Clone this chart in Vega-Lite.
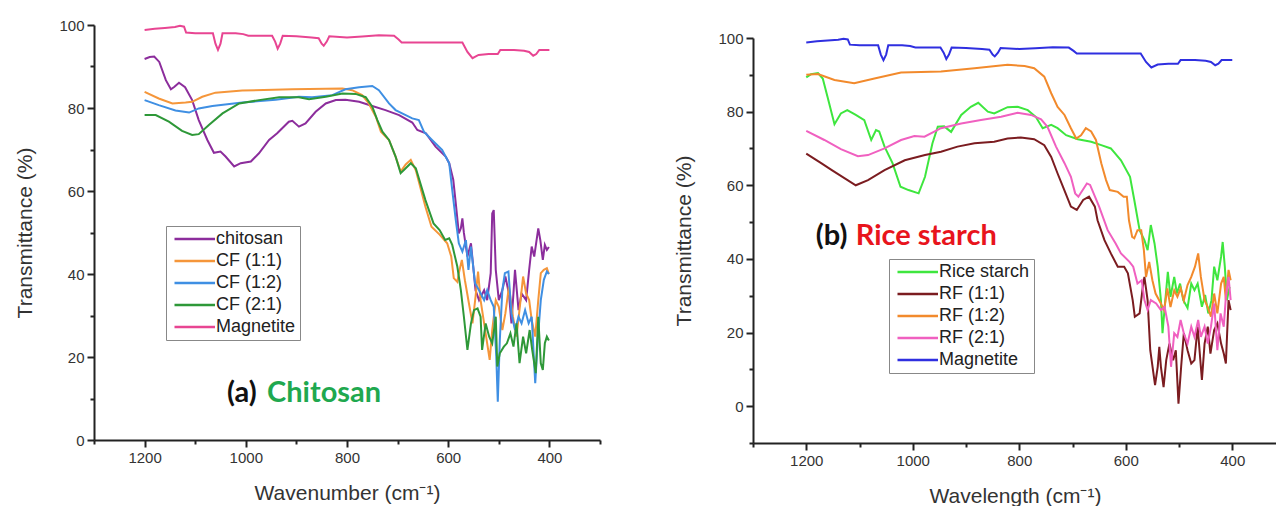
{
"$schema": "https://vega.github.io/schema/vega-lite/v6.json",
"background": "white",
"padding": {"left": 14, "top": 18, "right": 0, "bottom": 0},
"spacing": 72,
"config": {
  "font": "Liberation Sans",
  "view": {"stroke": null},
  "axis": {"domainColor": "#222", "domainWidth": 2, "tickColor": "#222", "tickWidth": 2, "labelFontSize": 15, "labelColor": "#333", "labelFont": "Liberation Sans", "titleFont": "Liberation Sans", "titleFontSize": 21, "titleFontWeight": "normal", "titleColor": "#333", "grid": false, "labelPadding": 3, "format": "d"},
  "legend": {"orient": "none", "title": null, "strokeColor": "#888", "fillColor": "white", "padding": 4, "symbolType": "M-1,0H8", "symbolSize": 81, "symbolStrokeWidth": 2.5, "labelOffset": 28, "labelFontSize": 18, "labelFont": "Liberation Sans", "labelColor": "#222", "rowPadding": 4}
},
"datasets": {
"a": [
{"series":"Magnetite","wn":1200,"T":98.8},{"series":"Magnetite","wn":1180,"T":99.1},{"series":"Magnetite","wn":1160,"T":99.3},{"series":"Magnetite","wn":1140,"T":99.5},{"series":"Magnetite","wn":1130,"T":99.8},{"series":"Magnetite","wn":1122,"T":99.6},{"series":"Magnetite","wn":1118,"T":98.2},{"series":"Magnetite","wn":1100,"T":98},{"series":"Magnetite","wn":1080,"T":98},{"series":"Magnetite","wn":1065,"T":98},{"series":"Magnetite","wn":1060,"T":95.5},{"series":"Magnetite","wn":1055,"T":94},{"series":"Magnetite","wn":1050,"T":95.5},{"series":"Magnetite","wn":1046,"T":98},{"series":"Magnetite","wn":1020,"T":98},{"series":"Magnetite","wn":1005,"T":97.8},{"series":"Magnetite","wn":995,"T":97.4},{"series":"Magnetite","wn":970,"T":97.4},{"series":"Magnetite","wn":948,"T":97.4},{"series":"Magnetite","wn":942,"T":96},{"series":"Magnetite","wn":937,"T":94.3},{"series":"Magnetite","wn":932,"T":95.5},{"series":"Magnetite","wn":927,"T":97.4},{"series":"Magnetite","wn":900,"T":97.3},{"series":"Magnetite","wn":870,"T":97},{"series":"Magnetite","wn":856,"T":96.8},{"series":"Magnetite","wn":850,"T":95.5},{"series":"Magnetite","wn":846,"T":95},{"series":"Magnetite","wn":840,"T":96},{"series":"Magnetite","wn":835,"T":97.3},{"series":"Magnetite","wn":800,"T":97},{"series":"Magnetite","wn":770,"T":97.2},{"series":"Magnetite","wn":737,"T":97.5},{"series":"Magnetite","wn":707,"T":97.4},{"series":"Magnetite","wn":698,"T":96.5},{"series":"Magnetite","wn":692,"T":95.8},{"series":"Magnetite","wn":650,"T":95.8},{"series":"Magnetite","wn":600,"T":95.8},{"series":"Magnetite","wn":572,"T":95.8},{"series":"Magnetite","wn":562,"T":93.5},{"series":"Magnetite","wn":552,"T":92},{"series":"Magnetite","wn":540,"T":92.8},{"series":"Magnetite","wn":520,"T":93},{"series":"Magnetite","wn":502,"T":93},{"series":"Magnetite","wn":497,"T":94},{"series":"Magnetite","wn":470,"T":94},{"series":"Magnetite","wn":450,"T":93.8},{"series":"Magnetite","wn":440,"T":93.5},{"series":"Magnetite","wn":432,"T":92.6},{"series":"Magnetite","wn":426,"T":93},{"series":"Magnetite","wn":420,"T":94},{"series":"Magnetite","wn":400,"T":94},
{"series":"chitosan","wn":1200,"T":91.8},{"series":"chitosan","wn":1190,"T":92.3},{"series":"chitosan","wn":1181,"T":92.4},{"series":"chitosan","wn":1171,"T":91.1},{"series":"chitosan","wn":1158,"T":86.7},{"series":"chitosan","wn":1148,"T":84.5},{"series":"chitosan","wn":1141,"T":85.1},{"series":"chitosan","wn":1132,"T":86.1},{"series":"chitosan","wn":1120,"T":85},{"series":"chitosan","wn":1106,"T":81.9},{"series":"chitosan","wn":1093,"T":77.1},{"series":"chitosan","wn":1076,"T":72.3},{"series":"chitosan","wn":1063,"T":69.2},{"series":"chitosan","wn":1050,"T":69.5},{"series":"chitosan","wn":1040,"T":68.3},{"series":"chitosan","wn":1023,"T":65.9},{"series":"chitosan","wn":1010,"T":66.7},{"series":"chitosan","wn":990,"T":67.1},{"series":"chitosan","wn":974,"T":69.1},{"series":"chitosan","wn":954,"T":72.3},{"series":"chitosan","wn":938,"T":73.9},{"series":"chitosan","wn":915,"T":76.7},{"series":"chitosan","wn":908,"T":76.9},{"series":"chitosan","wn":895,"T":75.5},{"series":"chitosan","wn":882,"T":76.3},{"series":"chitosan","wn":862,"T":79.1},{"series":"chitosan","wn":842,"T":81.1},{"series":"chitosan","wn":822,"T":81.9},{"series":"chitosan","wn":803,"T":82},{"series":"chitosan","wn":776,"T":81.5},{"series":"chitosan","wn":750,"T":80.5},{"series":"chitosan","wn":724,"T":79.5},{"series":"chitosan","wn":697,"T":78.3},{"series":"chitosan","wn":671,"T":76.5},{"series":"chitosan","wn":661,"T":74.7},{"series":"chitosan","wn":644,"T":73.9},{"series":"chitosan","wn":625,"T":70.7},{"series":"chitosan","wn":605,"T":68.3},{"series":"chitosan","wn":598,"T":66.7},{"series":"chitosan","wn":590,"T":62.7},{"series":"chitosan","wn":585,"T":57},{"series":"chitosan","wn":579,"T":49.8},{"series":"chitosan","wn":575,"T":51},{"series":"chitosan","wn":572,"T":53.4},{"series":"chitosan","wn":569,"T":49.9},{"series":"chitosan","wn":562,"T":44.2},{"series":"chitosan","wn":555,"T":47.4},{"series":"chitosan","wn":546,"T":36.1},{"series":"chitosan","wn":539,"T":33.7},{"series":"chitosan","wn":529,"T":36.1},{"series":"chitosan","wn":523,"T":33.7},{"series":"chitosan","wn":516,"T":40.2},{"series":"chitosan","wn":513,"T":54.6},{"series":"chitosan","wn":510,"T":55.4},{"series":"chitosan","wn":506,"T":41},{"series":"chitosan","wn":500,"T":33.7},{"series":"chitosan","wn":493,"T":36.1},{"series":"chitosan","wn":487,"T":39.4},{"series":"chitosan","wn":480,"T":35.3},{"series":"chitosan","wn":475,"T":28.1},{"series":"chitosan","wn":468,"T":41},{"series":"chitosan","wn":461,"T":31.3},{"series":"chitosan","wn":455,"T":35.3},{"series":"chitosan","wn":446,"T":33.7},{"series":"chitosan","wn":440,"T":41},{"series":"chitosan","wn":435,"T":46.6},{"series":"chitosan","wn":430,"T":44.2},{"series":"chitosan","wn":422,"T":51},{"series":"chitosan","wn":418,"T":48.2},{"series":"chitosan","wn":413,"T":43.4},{"series":"chitosan","wn":409,"T":47},{"series":"chitosan","wn":405,"T":45.8},{"series":"chitosan","wn":401,"T":46.5},
{"series":"CF (1:1)","wn":1200,"T":83.9},{"series":"CF (1:1)","wn":1172,"T":82.3},{"series":"CF (1:1)","wn":1145,"T":81.1},{"series":"CF (1:1)","wn":1119,"T":81.3},{"series":"CF (1:1)","wn":1106,"T":81.5},{"series":"CF (1:1)","wn":1086,"T":82.7},{"series":"CF (1:1)","wn":1060,"T":83.7},{"series":"CF (1:1)","wn":1007,"T":84.2},{"series":"CF (1:1)","wn":908,"T":84.5},{"series":"CF (1:1)","wn":809,"T":84.7},{"series":"CF (1:1)","wn":790,"T":84.3},{"series":"CF (1:1)","wn":770,"T":83.1},{"series":"CF (1:1)","wn":757,"T":81.1},{"series":"CF (1:1)","wn":743,"T":77.9},{"series":"CF (1:1)","wn":733,"T":74.3},{"series":"CF (1:1)","wn":717,"T":72.3},{"series":"CF (1:1)","wn":704,"T":68.3},{"series":"CF (1:1)","wn":694,"T":64.7},{"series":"CF (1:1)","wn":684,"T":66.4},{"series":"CF (1:1)","wn":674,"T":67.5},{"series":"CF (1:1)","wn":664,"T":65},{"series":"CF (1:1)","wn":645,"T":56.2},{"series":"CF (1:1)","wn":633,"T":51.4},{"series":"CF (1:1)","wn":617,"T":49.5},{"series":"CF (1:1)","wn":602,"T":47.4},{"series":"CF (1:1)","wn":594,"T":44.2},{"series":"CF (1:1)","wn":589,"T":39},{"series":"CF (1:1)","wn":582,"T":38.1},{"series":"CF (1:1)","wn":579,"T":40.2},{"series":"CF (1:1)","wn":573,"T":43.4},{"series":"CF (1:1)","wn":567,"T":38.5},{"series":"CF (1:1)","wn":559,"T":32.9},{"series":"CF (1:1)","wn":552,"T":28.1},{"series":"CF (1:1)","wn":546,"T":34.5},{"series":"CF (1:1)","wn":541,"T":40.6},{"series":"CF (1:1)","wn":536,"T":33.7},{"series":"CF (1:1)","wn":526,"T":25.7},{"series":"CF (1:1)","wn":518,"T":19.3},{"series":"CF (1:1)","wn":513,"T":26.5},{"series":"CF (1:1)","wn":506,"T":33.7},{"series":"CF (1:1)","wn":500,"T":32.1},{"series":"CF (1:1)","wn":493,"T":26.5},{"series":"CF (1:1)","wn":487,"T":30.5},{"series":"CF (1:1)","wn":480,"T":36.9},{"series":"CF (1:1)","wn":472,"T":29.7},{"series":"CF (1:1)","wn":465,"T":24.9},{"series":"CF (1:1)","wn":457,"T":33.7},{"series":"CF (1:1)","wn":452,"T":39.4},{"series":"CF (1:1)","wn":446,"T":35.3},{"series":"CF (1:1)","wn":440,"T":33.7},{"series":"CF (1:1)","wn":435,"T":28.9},{"series":"CF (1:1)","wn":428,"T":24.9},{"series":"CF (1:1)","wn":422,"T":33.7},{"series":"CF (1:1)","wn":417,"T":40.2},{"series":"CF (1:1)","wn":411,"T":41},{"series":"CF (1:1)","wn":405,"T":41.4},{"series":"CF (1:1)","wn":401,"T":40},
{"series":"CF (1:2)","wn":1200,"T":81.9},{"series":"CF (1:2)","wn":1172,"T":80.7},{"series":"CF (1:2)","wn":1139,"T":79.4},{"series":"CF (1:2)","wn":1112,"T":78.9},{"series":"CF (1:2)","wn":1093,"T":79.9},{"series":"CF (1:2)","wn":1066,"T":80.5},{"series":"CF (1:2)","wn":1007,"T":81.3},{"series":"CF (1:2)","wn":941,"T":82},{"series":"CF (1:2)","wn":895,"T":82.7},{"series":"CF (1:2)","wn":869,"T":82.6},{"series":"CF (1:2)","wn":829,"T":83.1},{"series":"CF (1:2)","wn":803,"T":84.5},{"series":"CF (1:2)","wn":776,"T":85},{"series":"CF (1:2)","wn":750,"T":85.3},{"series":"CF (1:2)","wn":737,"T":84.3},{"series":"CF (1:2)","wn":717,"T":81.1},{"series":"CF (1:2)","wn":704,"T":79.5},{"series":"CF (1:2)","wn":684,"T":78.3},{"series":"CF (1:2)","wn":671,"T":77.5},{"series":"CF (1:2)","wn":658,"T":77.1},{"series":"CF (1:2)","wn":648,"T":74.3},{"series":"CF (1:2)","wn":632,"T":72.3},{"series":"CF (1:2)","wn":612,"T":69.9},{"series":"CF (1:2)","wn":598,"T":66.7},{"series":"CF (1:2)","wn":592,"T":60.2},{"series":"CF (1:2)","wn":585,"T":53},{"series":"CF (1:2)","wn":579,"T":47.4},{"series":"CF (1:2)","wn":572,"T":45.4},{"series":"CF (1:2)","wn":565,"T":48.2},{"series":"CF (1:2)","wn":560,"T":41},{"series":"CF (1:2)","wn":555,"T":46.6},{"series":"CF (1:2)","wn":547,"T":37.8},{"series":"CF (1:2)","wn":539,"T":36.1},{"series":"CF (1:2)","wn":529,"T":33.7},{"series":"CF (1:2)","wn":523,"T":36.1},{"series":"CF (1:2)","wn":516,"T":33.7},{"series":"CF (1:2)","wn":510,"T":32.1},{"series":"CF (1:2)","wn":505,"T":20.1},{"series":"CF (1:2)","wn":502,"T":9.2},{"series":"CF (1:2)","wn":498,"T":24.1},{"series":"CF (1:2)","wn":493,"T":36.1},{"series":"CF (1:2)","wn":488,"T":40.2},{"series":"CF (1:2)","wn":481,"T":40.6},{"series":"CF (1:2)","wn":475,"T":30.5},{"series":"CF (1:2)","wn":468,"T":26.5},{"series":"CF (1:2)","wn":461,"T":29.7},{"series":"CF (1:2)","wn":455,"T":28.1},{"series":"CF (1:2)","wn":448,"T":31.3},{"series":"CF (1:2)","wn":441,"T":28.1},{"series":"CF (1:2)","wn":435,"T":29.7},{"series":"CF (1:2)","wn":428,"T":13.7},{"series":"CF (1:2)","wn":423,"T":24.1},{"series":"CF (1:2)","wn":417,"T":33.7},{"series":"CF (1:2)","wn":411,"T":38.6},{"series":"CF (1:2)","wn":405,"T":40.6},{"series":"CF (1:2)","wn":401,"T":40},
{"series":"CF (2:1)","wn":1200,"T":78.3},{"series":"CF (2:1)","wn":1178,"T":78.3},{"series":"CF (2:1)","wn":1152,"T":76.7},{"series":"CF (2:1)","wn":1126,"T":74.5},{"series":"CF (2:1)","wn":1106,"T":73.5},{"series":"CF (2:1)","wn":1093,"T":73.7},{"series":"CF (2:1)","wn":1073,"T":75.9},{"series":"CF (2:1)","wn":1046,"T":78.7},{"series":"CF (2:1)","wn":1013,"T":81.1},{"series":"CF (2:1)","wn":974,"T":81.9},{"series":"CF (2:1)","wn":934,"T":82.6},{"series":"CF (2:1)","wn":895,"T":82.6},{"series":"CF (2:1)","wn":875,"T":82.1},{"series":"CF (2:1)","wn":842,"T":82.7},{"series":"CF (2:1)","wn":809,"T":83.5},{"series":"CF (2:1)","wn":783,"T":83.4},{"series":"CF (2:1)","wn":763,"T":82.6},{"series":"CF (2:1)","wn":750,"T":80.3},{"series":"CF (2:1)","wn":740,"T":77.1},{"series":"CF (2:1)","wn":730,"T":74.3},{"series":"CF (2:1)","wn":717,"T":72.3},{"series":"CF (2:1)","wn":704,"T":68.3},{"series":"CF (2:1)","wn":694,"T":64.3},{"series":"CF (2:1)","wn":684,"T":65.5},{"series":"CF (2:1)","wn":674,"T":66.7},{"series":"CF (2:1)","wn":664,"T":65.5},{"series":"CF (2:1)","wn":645,"T":57.8},{"series":"CF (2:1)","wn":629,"T":52.2},{"series":"CF (2:1)","wn":617,"T":50.6},{"series":"CF (2:1)","wn":606,"T":48.2},{"series":"CF (2:1)","wn":598,"T":48.6},{"series":"CF (2:1)","wn":592,"T":47},{"series":"CF (2:1)","wn":582,"T":41.8},{"series":"CF (2:1)","wn":575,"T":36.1},{"series":"CF (2:1)","wn":569,"T":29.7},{"series":"CF (2:1)","wn":562,"T":21.7},{"series":"CF (2:1)","wn":555,"T":28.1},{"series":"CF (2:1)","wn":549,"T":31.3},{"series":"CF (2:1)","wn":542,"T":31.7},{"series":"CF (2:1)","wn":536,"T":29.7},{"series":"CF (2:1)","wn":533,"T":21.7},{"series":"CF (2:1)","wn":526,"T":28.1},{"series":"CF (2:1)","wn":519,"T":24.9},{"series":"CF (2:1)","wn":513,"T":23.3},{"series":"CF (2:1)","wn":506,"T":29.7},{"series":"CF (2:1)","wn":503,"T":17.7},{"series":"CF (2:1)","wn":498,"T":20.9},{"series":"CF (2:1)","wn":490,"T":22.5},{"series":"CF (2:1)","wn":484,"T":23.3},{"series":"CF (2:1)","wn":477,"T":25.7},{"series":"CF (2:1)","wn":471,"T":22.5},{"series":"CF (2:1)","wn":465,"T":28.1},{"series":"CF (2:1)","wn":459,"T":18.5},{"series":"CF (2:1)","wn":452,"T":24.9},{"series":"CF (2:1)","wn":446,"T":20.9},{"series":"CF (2:1)","wn":439,"T":26.5},{"series":"CF (2:1)","wn":434,"T":21.7},{"series":"CF (2:1)","wn":427,"T":16.1},{"series":"CF (2:1)","wn":422,"T":29.7},{"series":"CF (2:1)","wn":417,"T":18.5},{"series":"CF (2:1)","wn":413,"T":16.9},{"series":"CF (2:1)","wn":409,"T":23.3},{"series":"CF (2:1)","wn":405,"T":24.9},{"series":"CF (2:1)","wn":401,"T":24}
],
"b": [
{"series":"Magnetite","wn":1200,"T":98.8},{"series":"Magnetite","wn":1180,"T":99.1},{"series":"Magnetite","wn":1160,"T":99.3},{"series":"Magnetite","wn":1140,"T":99.5},{"series":"Magnetite","wn":1130,"T":99.8},{"series":"Magnetite","wn":1122,"T":99.6},{"series":"Magnetite","wn":1118,"T":98.2},{"series":"Magnetite","wn":1100,"T":98},{"series":"Magnetite","wn":1080,"T":98},{"series":"Magnetite","wn":1065,"T":98},{"series":"Magnetite","wn":1060,"T":95.5},{"series":"Magnetite","wn":1055,"T":94},{"series":"Magnetite","wn":1050,"T":95.5},{"series":"Magnetite","wn":1046,"T":98},{"series":"Magnetite","wn":1020,"T":98},{"series":"Magnetite","wn":1005,"T":97.8},{"series":"Magnetite","wn":995,"T":97.4},{"series":"Magnetite","wn":970,"T":97.4},{"series":"Magnetite","wn":948,"T":97.4},{"series":"Magnetite","wn":942,"T":96},{"series":"Magnetite","wn":937,"T":94.3},{"series":"Magnetite","wn":932,"T":95.5},{"series":"Magnetite","wn":927,"T":97.4},{"series":"Magnetite","wn":900,"T":97.3},{"series":"Magnetite","wn":870,"T":97},{"series":"Magnetite","wn":856,"T":96.8},{"series":"Magnetite","wn":850,"T":95.5},{"series":"Magnetite","wn":846,"T":95},{"series":"Magnetite","wn":840,"T":96},{"series":"Magnetite","wn":835,"T":97.3},{"series":"Magnetite","wn":800,"T":97},{"series":"Magnetite","wn":770,"T":97.2},{"series":"Magnetite","wn":737,"T":97.5},{"series":"Magnetite","wn":707,"T":97.4},{"series":"Magnetite","wn":698,"T":96.5},{"series":"Magnetite","wn":692,"T":95.8},{"series":"Magnetite","wn":650,"T":95.8},{"series":"Magnetite","wn":600,"T":95.8},{"series":"Magnetite","wn":572,"T":95.8},{"series":"Magnetite","wn":562,"T":93.5},{"series":"Magnetite","wn":552,"T":92},{"series":"Magnetite","wn":540,"T":92.8},{"series":"Magnetite","wn":520,"T":93},{"series":"Magnetite","wn":502,"T":93},{"series":"Magnetite","wn":497,"T":94},{"series":"Magnetite","wn":470,"T":94},{"series":"Magnetite","wn":450,"T":93.8},{"series":"Magnetite","wn":440,"T":93.5},{"series":"Magnetite","wn":432,"T":92.6},{"series":"Magnetite","wn":426,"T":93},{"series":"Magnetite","wn":420,"T":94},{"series":"Magnetite","wn":400,"T":94},
{"series":"Rice starch","wn":1200,"T":89.3},{"series":"Rice starch","wn":1191,"T":90.2},{"series":"Rice starch","wn":1178,"T":90.5},{"series":"Rice starch","wn":1169,"T":89},{"series":"Rice starch","wn":1160,"T":84},{"series":"Rice starch","wn":1147,"T":76.6},{"series":"Rice starch","wn":1135,"T":79.5},{"series":"Rice starch","wn":1123,"T":80.4},{"series":"Rice starch","wn":1107,"T":79.1},{"series":"Rice starch","wn":1091,"T":77.7},{"series":"Rice starch","wn":1078,"T":72.3},{"series":"Rice starch","wn":1069,"T":75},{"series":"Rice starch","wn":1063,"T":74.6},{"series":"Rice starch","wn":1053,"T":70.5},{"series":"Rice starch","wn":1038,"T":66},{"series":"Rice starch","wn":1023,"T":59.6},{"series":"Rice starch","wn":1008,"T":58.7},{"series":"Rice starch","wn":989,"T":57.8},{"series":"Rice starch","wn":977,"T":62.3},{"series":"Rice starch","wn":963,"T":71.4},{"series":"Rice starch","wn":953,"T":75.9},{"series":"Rice starch","wn":941,"T":76},{"series":"Rice starch","wn":928,"T":74.5},{"series":"Rice starch","wn":909,"T":79.1},{"series":"Rice starch","wn":891,"T":81.3},{"series":"Rice starch","wn":877,"T":82.4},{"series":"Rice starch","wn":859,"T":80},{"series":"Rice starch","wn":847,"T":79.5},{"series":"Rice starch","wn":822,"T":81.2},{"series":"Rice starch","wn":803,"T":81.3},{"series":"Rice starch","wn":784,"T":80.4},{"series":"Rice starch","wn":769,"T":78.6},{"series":"Rice starch","wn":756,"T":75.5},{"series":"Rice starch","wn":740,"T":76.4},{"series":"Rice starch","wn":728,"T":75.5},{"series":"Rice starch","wn":712,"T":73.6},{"series":"Rice starch","wn":690,"T":72.5},{"series":"Rice starch","wn":665,"T":71.8},{"series":"Rice starch","wn":646,"T":70.9},{"series":"Rice starch","wn":628,"T":70},{"series":"Rice starch","wn":609,"T":66.8},{"series":"Rice starch","wn":592,"T":62.3},{"series":"Rice starch","wn":584,"T":56},{"series":"Rice starch","wn":574,"T":47.8},{"series":"Rice starch","wn":565,"T":45.1},{"series":"Rice starch","wn":559,"T":42.4},{"series":"Rice starch","wn":553,"T":49.2},{"series":"Rice starch","wn":546,"T":44.2},{"series":"Rice starch","wn":540,"T":37.9},{"series":"Rice starch","wn":534,"T":28.8},{"series":"Rice starch","wn":531,"T":19.8},{"series":"Rice starch","wn":527,"T":26.7},{"series":"Rice starch","wn":521,"T":36.5},{"series":"Rice starch","wn":516,"T":29.7},{"series":"Rice starch","wn":509,"T":35.1},{"series":"Rice starch","wn":504,"T":30.6},{"series":"Rice starch","wn":498,"T":33.3},{"series":"Rice starch","wn":492,"T":28.8},{"series":"Rice starch","wn":484,"T":26.7},{"series":"Rice starch","wn":477,"T":33.3},{"series":"Rice starch","wn":471,"T":31.5},{"series":"Rice starch","wn":465,"T":33.3},{"series":"Rice starch","wn":457,"T":27},{"series":"Rice starch","wn":451,"T":30.2},{"series":"Rice starch","wn":445,"T":25.2},{"series":"Rice starch","wn":439,"T":28.8},{"series":"Rice starch","wn":434,"T":37.9},{"series":"Rice starch","wn":428,"T":34.2},{"series":"Rice starch","wn":421,"T":40.6},{"series":"Rice starch","wn":418,"T":44.6},{"series":"Rice starch","wn":414,"T":37.9},{"series":"Rice starch","wn":410,"T":28.8},{"series":"Rice starch","wn":405,"T":32.4},
{"series":"RF (1:1)","wn":1200,"T":68.6},{"series":"RF (1:1)","wn":1172,"T":66},{"series":"RF (1:1)","wn":1152,"T":64.1},{"series":"RF (1:1)","wn":1107,"T":60},{"series":"RF (1:1)","wn":1084,"T":61.4},{"series":"RF (1:1)","wn":1053,"T":64.1},{"series":"RF (1:1)","wn":1015,"T":66.8},{"series":"RF (1:1)","wn":977,"T":68.2},{"series":"RF (1:1)","wn":947,"T":69.1},{"series":"RF (1:1)","wn":916,"T":70.5},{"series":"RF (1:1)","wn":884,"T":71.4},{"series":"RF (1:1)","wn":847,"T":71.8},{"series":"RF (1:1)","wn":822,"T":72.7},{"series":"RF (1:1)","wn":797,"T":73},{"series":"RF (1:1)","wn":772,"T":72.5},{"series":"RF (1:1)","wn":753,"T":70.9},{"series":"RF (1:1)","wn":740,"T":67.7},{"series":"RF (1:1)","wn":728,"T":63.2},{"series":"RF (1:1)","wn":718,"T":59.6},{"series":"RF (1:1)","wn":703,"T":54.2},{"series":"RF (1:1)","wn":692,"T":53.3},{"series":"RF (1:1)","wn":680,"T":56},{"series":"RF (1:1)","wn":669,"T":56.9},{"series":"RF (1:1)","wn":658,"T":54.2},{"series":"RF (1:1)","wn":653,"T":50.5},{"series":"RF (1:1)","wn":640,"T":45.1},{"series":"RF (1:1)","wn":628,"T":41.5},{"series":"RF (1:1)","wn":615,"T":37.9},{"series":"RF (1:1)","wn":603,"T":37.9},{"series":"RF (1:1)","wn":596,"T":36.1},{"series":"RF (1:1)","wn":587,"T":28.8},{"series":"RF (1:1)","wn":583,"T":24.3},{"series":"RF (1:1)","wn":574,"T":25.2},{"series":"RF (1:1)","wn":568,"T":32.4},{"series":"RF (1:1)","wn":565,"T":35.1},{"series":"RF (1:1)","wn":559,"T":28.8},{"series":"RF (1:1)","wn":554,"T":15.2},{"series":"RF (1:1)","wn":545,"T":5.7},{"series":"RF (1:1)","wn":540,"T":10.7},{"series":"RF (1:1)","wn":537,"T":16.1},{"series":"RF (1:1)","wn":534,"T":10.7},{"series":"RF (1:1)","wn":529,"T":5.2},{"series":"RF (1:1)","wn":524,"T":12.5},{"series":"RF (1:1)","wn":518,"T":17},{"series":"RF (1:1)","wn":511,"T":12.5},{"series":"RF (1:1)","wn":506,"T":15.2},{"series":"RF (1:1)","wn":501,"T":0.7},{"series":"RF (1:1)","wn":496,"T":10.7},{"series":"RF (1:1)","wn":491,"T":19.8},{"series":"RF (1:1)","wn":484,"T":15.2},{"series":"RF (1:1)","wn":477,"T":11.6},{"series":"RF (1:1)","wn":471,"T":12.5},{"series":"RF (1:1)","wn":465,"T":21.6},{"series":"RF (1:1)","wn":457,"T":7.1},{"series":"RF (1:1)","wn":452,"T":17},{"series":"RF (1:1)","wn":446,"T":21.6},{"series":"RF (1:1)","wn":441,"T":14.3},{"series":"RF (1:1)","wn":434,"T":20.7},{"series":"RF (1:1)","wn":428,"T":22.5},{"series":"RF (1:1)","wn":421,"T":17},{"series":"RF (1:1)","wn":416,"T":14.3},{"series":"RF (1:1)","wn":412,"T":11.6},{"series":"RF (1:1)","wn":407,"T":28.8},{"series":"RF (1:1)","wn":403,"T":26.1},
{"series":"RF (1:2)","wn":1200,"T":90},{"series":"RF (1:2)","wn":1178,"T":90.2},{"series":"RF (1:2)","wn":1147,"T":88.6},{"series":"RF (1:2)","wn":1110,"T":87.7},{"series":"RF (1:2)","wn":1072,"T":89},{"series":"RF (1:2)","wn":1022,"T":90.6},{"series":"RF (1:2)","wn":947,"T":90.9},{"series":"RF (1:2)","wn":884,"T":91.8},{"series":"RF (1:2)","wn":822,"T":92.7},{"series":"RF (1:2)","wn":790,"T":92.4},{"series":"RF (1:2)","wn":772,"T":91.8},{"series":"RF (1:2)","wn":753,"T":89.5},{"series":"RF (1:2)","wn":740,"T":85},{"series":"RF (1:2)","wn":728,"T":81.3},{"series":"RF (1:2)","wn":715,"T":79.1},{"series":"RF (1:2)","wn":703,"T":75.5},{"series":"RF (1:2)","wn":693,"T":72.7},{"series":"RF (1:2)","wn":684,"T":73.6},{"series":"RF (1:2)","wn":675,"T":75.5},{"series":"RF (1:2)","wn":665,"T":74.6},{"series":"RF (1:2)","wn":656,"T":72.3},{"series":"RF (1:2)","wn":646,"T":66},{"series":"RF (1:2)","wn":637,"T":61.4},{"series":"RF (1:2)","wn":630,"T":58.7},{"series":"RF (1:2)","wn":615,"T":58.2},{"series":"RF (1:2)","wn":604,"T":56.9},{"series":"RF (1:2)","wn":598,"T":56.9},{"series":"RF (1:2)","wn":594,"T":50.5},{"series":"RF (1:2)","wn":588,"T":46},{"series":"RF (1:2)","wn":584,"T":45.6},{"series":"RF (1:2)","wn":578,"T":47.8},{"series":"RF (1:2)","wn":571,"T":47.8},{"series":"RF (1:2)","wn":566,"T":42.4},{"series":"RF (1:2)","wn":562,"T":35.1},{"series":"RF (1:2)","wn":556,"T":39.2},{"series":"RF (1:2)","wn":550,"T":34.2},{"series":"RF (1:2)","wn":544,"T":30.6},{"series":"RF (1:2)","wn":534,"T":27.9},{"series":"RF (1:2)","wn":528,"T":26.1},{"series":"RF (1:2)","wn":522,"T":32},{"series":"RF (1:2)","wn":516,"T":26.9},{"series":"RF (1:2)","wn":509,"T":31.5},{"series":"RF (1:2)","wn":503,"T":29.7},{"series":"RF (1:2)","wn":497,"T":32},{"series":"RF (1:2)","wn":491,"T":28.8},{"series":"RF (1:2)","wn":484,"T":32.9},{"series":"RF (1:2)","wn":477,"T":35.1},{"series":"RF (1:2)","wn":470,"T":37.9},{"series":"RF (1:2)","wn":464,"T":41.5},{"series":"RF (1:2)","wn":459,"T":35.1},{"series":"RF (1:2)","wn":452,"T":28.8},{"series":"RF (1:2)","wn":446,"T":26.9},{"series":"RF (1:2)","wn":440,"T":24.3},{"series":"RF (1:2)","wn":434,"T":30.6},{"series":"RF (1:2)","wn":428,"T":25.2},{"series":"RF (1:2)","wn":421,"T":33.3},{"series":"RF (1:2)","wn":416,"T":35.1},{"series":"RF (1:2)","wn":412,"T":28.8},{"series":"RF (1:2)","wn":407,"T":37},{"series":"RF (1:2)","wn":403,"T":34.2},
{"series":"RF (2:1)","wn":1200,"T":74.8},{"series":"RF (2:1)","wn":1166,"T":72.3},{"series":"RF (2:1)","wn":1135,"T":69.8},{"series":"RF (2:1)","wn":1103,"T":67.9},{"series":"RF (2:1)","wn":1084,"T":68.2},{"series":"RF (2:1)","wn":1053,"T":70},{"series":"RF (2:1)","wn":1022,"T":72.3},{"series":"RF (2:1)","wn":997,"T":73.4},{"series":"RF (2:1)","wn":978,"T":73.2},{"series":"RF (2:1)","wn":947,"T":75.5},{"series":"RF (2:1)","wn":909,"T":76.8},{"series":"RF (2:1)","wn":872,"T":77.7},{"series":"RF (2:1)","wn":834,"T":78.6},{"series":"RF (2:1)","wn":803,"T":79.7},{"series":"RF (2:1)","wn":778,"T":79.1},{"series":"RF (2:1)","wn":759,"T":77.9},{"series":"RF (2:1)","wn":747,"T":75.9},{"series":"RF (2:1)","wn":731,"T":70.5},{"series":"RF (2:1)","wn":715,"T":66},{"series":"RF (2:1)","wn":703,"T":62.3},{"series":"RF (2:1)","wn":695,"T":57.8},{"series":"RF (2:1)","wn":689,"T":56.9},{"series":"RF (2:1)","wn":673,"T":60.5},{"series":"RF (2:1)","wn":667,"T":60.1},{"series":"RF (2:1)","wn":650,"T":54.2},{"series":"RF (2:1)","wn":634,"T":47.8},{"series":"RF (2:1)","wn":619,"T":44.2},{"series":"RF (2:1)","wn":609,"T":41.5},{"series":"RF (2:1)","wn":593,"T":39.2},{"series":"RF (2:1)","wn":586,"T":37.9},{"series":"RF (2:1)","wn":578,"T":33.3},{"series":"RF (2:1)","wn":570,"T":34.2},{"series":"RF (2:1)","wn":565,"T":28.8},{"series":"RF (2:1)","wn":559,"T":26.1},{"series":"RF (2:1)","wn":553,"T":28.8},{"series":"RF (2:1)","wn":543,"T":27.9},{"series":"RF (2:1)","wn":534,"T":26.1},{"series":"RF (2:1)","wn":527,"T":26.9},{"series":"RF (2:1)","wn":520,"T":21.6},{"series":"RF (2:1)","wn":515,"T":10.7},{"series":"RF (2:1)","wn":509,"T":19.8},{"series":"RF (2:1)","wn":503,"T":18.8},{"series":"RF (2:1)","wn":497,"T":23.4},{"series":"RF (2:1)","wn":491,"T":19.8},{"series":"RF (2:1)","wn":484,"T":17},{"series":"RF (2:1)","wn":477,"T":21.6},{"series":"RF (2:1)","wn":471,"T":18.8},{"series":"RF (2:1)","wn":464,"T":23.4},{"series":"RF (2:1)","wn":459,"T":18.8},{"series":"RF (2:1)","wn":452,"T":21.6},{"series":"RF (2:1)","wn":446,"T":17},{"series":"RF (2:1)","wn":440,"T":21.6},{"series":"RF (2:1)","wn":434,"T":27.9},{"series":"RF (2:1)","wn":428,"T":15.2},{"series":"RF (2:1)","wn":422,"T":25.2},{"series":"RF (2:1)","wn":416,"T":21.6},{"series":"RF (2:1)","wn":412,"T":29.7},{"series":"RF (2:1)","wn":407,"T":35.1},{"series":"RF (2:1)","wn":403,"T":28.8}
]
},
"hconcat": [
{
  "width": 506, "height": 415,
  "encoding": {
    "x": {"field": "wn", "type": "quantitative", "scale": {"domain": [300, 1300], "reverse": true, "nice": false, "zero": false},
      "axis": {"title": "Wavenumber (cm⁻¹)", "values": [1300,1200,1100,1000,900,800,700,600,500,400,300], "labelExpr": "datum.value % 200 === 0 ? datum.label : ''", "tickSize": {"condition": {"test": "datum.value % 200 === 0", "value": 7}, "value": 4}, "titlePadding": 17}},
    "y": {"field": "T", "type": "quantitative", "scale": {"domain": [0, 100], "nice": false, "zero": false},
      "axis": {"title": "Transmittance (%)", "values": [0,10,20,30,40,50,60,70,80,90,100], "labelExpr": "datum.value % 20 === 0 ? datum.label : ''", "tickSize": {"condition": {"test": "datum.value % 20 === 0", "value": 7}, "value": 4}, "titlePadding": 23}}
  },
  "layer": [
    {"data": {"name": "a"}, "mark": {"type": "line", "strokeWidth": 2},
     "encoding": {"color": {"field": "series", "type": "nominal",
       "scale": {"domain": ["chitosan", "CF (1:1)", "CF (1:2)", "CF (2:1)", "Magnetite"], "range": ["#8c2d9c", "#f5963a", "#3f8fe3", "#2e9838", "#e84592"]},
       "legend": {"legendX": 72, "legendY": 201}}}},
    {"data": {"values": [{"label": "(a)", "wn": 1037, "T": 11.3}]}, "mark": {"type": "text", "align": "left", "baseline": "middle", "font": "Lato", "fontSize": 29, "fontWeight": "bold", "color": "#111"}, "encoding": {"text": {"field": "label"}}},
    {"data": {"values": [{"label": "Chitosan", "wn": 958, "T": 11.3}]}, "mark": {"type": "text", "align": "left", "baseline": "middle", "font": "Lato", "fontSize": 29, "fontWeight": "bold", "color": "#1fa84f"}, "encoding": {"text": {"field": "label"}}}
  ]
},
{
  "spacing": 0,
  "vconcat": [
    {"width": 524, "height": 2, "data": {"values": [{"label": ""}]}, "mark": {"type": "text"}, "encoding": {"text": {"field": "label"}}},
    {
      "width": 524, "height": 405,
      "encoding": {
        "x": {"field": "wn", "type": "quantitative", "scale": {"domain": [316, 1300], "reverse": true, "nice": false, "zero": false},
          "axis": {"title": "Wavelength (cm⁻¹)", "values": [1300,1200,1100,1000,900,800,700,600,500,400], "labelExpr": "datum.value % 200 === 0 ? datum.label : ''", "tickSize": {"condition": {"test": "datum.value % 200 === 0", "value": 7}, "value": 4}, "titlePadding": 17}},
        "y": {"field": "T", "type": "quantitative", "scale": {"domain": [-10, 100], "nice": false, "zero": false},
          "axis": {"title": "Transmittance (%)", "values": [-10,0,10,20,30,40,50,60,70,80,90,100], "labelExpr": "datum.value % 20 === 0 ? datum.label : ''", "tickSize": {"condition": {"test": "datum.value % 20 === 0", "value": 7}, "value": 4}, "titlePadding": 23}}
      },
      "layer": [
        {"data": {"name": "b"}, "mark": {"type": "line", "strokeWidth": 2},
         "encoding": {"color": {"field": "series", "type": "nominal",
           "scale": {"domain": ["Rice starch", "RF (1:1)", "RF (1:2)", "RF (2:1)", "Magnetite"], "range": ["#3ee63e", "#7b1c20", "#f28a2c", "#f060c0", "#2f2fe0"]},
           "legend": {"legendX": 136, "legendY": 234}}}},
        {"data": {"values": [{"label": "(b)", "wn": 1182, "T": 46.2}]}, "mark": {"type": "text", "align": "left", "baseline": "middle", "font": "Lato", "fontSize": 29, "fontWeight": "bold", "color": "#111"}, "encoding": {"text": {"field": "label"}}},
        {"data": {"values": [{"label": "Rice starch", "wn": 1107, "T": 46.2}]}, "mark": {"type": "text", "align": "left", "baseline": "middle", "font": "Lato", "fontSize": 29, "fontWeight": "bold", "color": "#e8141c"}, "encoding": {"text": {"field": "label"}}}
      ]
    }
  ]
}
],
"resolve": {"scale": {"color": "independent"}, "legend": {"color": "independent"}}
}
